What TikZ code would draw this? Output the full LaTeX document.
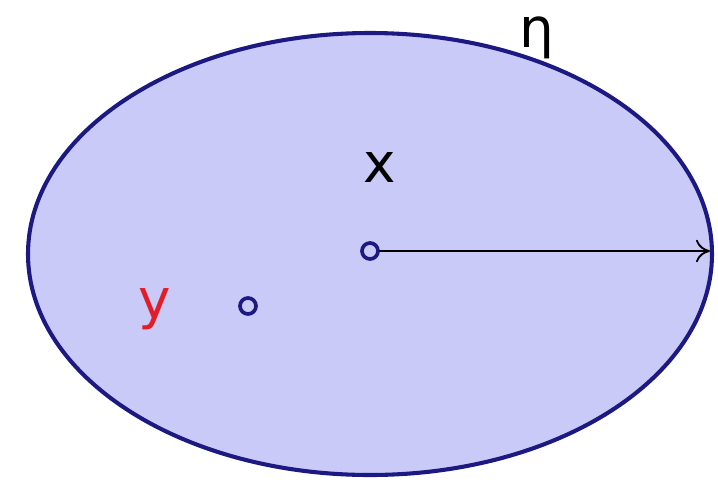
\documentclass[tikz,border=0pt]{standalone}
\usepackage{fontspec}
\setmainfont{DejaVu Sans}
\usetikzlibrary{arrows.meta}
\definecolor{rimblue}{RGB}{28,26,130}
\definecolor{fillblue}{RGB}{202,202,248}
\definecolor{lblred}{RGB}{225,30,40}
\begin{document}
\begin{tikzpicture}[line cap=round,line join=round,>={To[length=10pt,width=16pt]},x=0.025cm,y=-0.025cm,
	pt/.style={circle,draw=rimblue,line width=2.6pt,inner sep=0pt,minimum size=0.4cm},
	lbl/.style={font=\fontsize{39}{40}\selectfont}]
			\useasboundingbox (0,0) rectangle (718,481);
			\draw[fill=fillblue,draw=rimblue,line width=2.9pt] (370,254) ellipse [x radius=342,y radius=221];
			\node[pt] (x) at (370,251) {};
			\node[pt] (y) at (248,306) {};
			\coordinate (rim) at (710,251);
			\draw[->,color=black,line width=1.3pt] (x) -- (rim);
			\node[lbl] (xl) at (380,168) {x};
			\node[lbl,text=lblred] (yl) at (155,309) {y};
			\node[lbl] (eta) at (537,38) {η};
	\end{tikzpicture}
\end{document}
